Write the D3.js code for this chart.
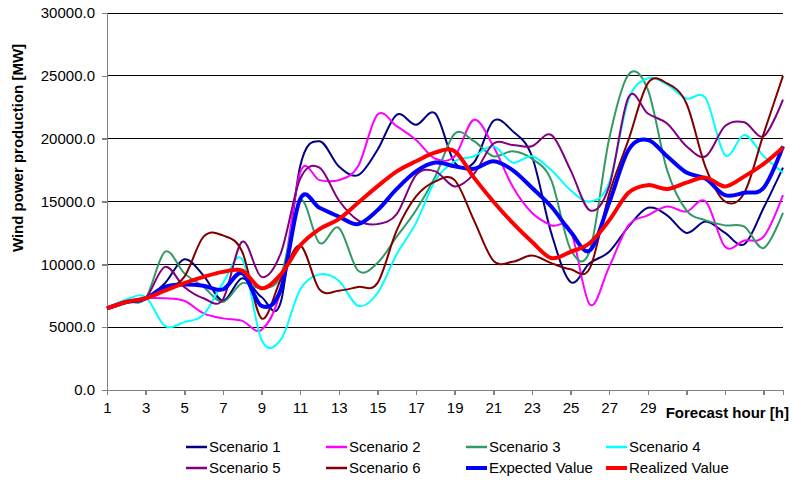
<!DOCTYPE html>
<html>

<head>
    <meta charset='utf-8'>
    <title>Wind power scenarios</title>
    <script type='text/javascript' src='https://cdn.jsdelivr.net/npm/d3@7'></script>
    <style>
        body { margin: 0; background: #fff; }
        text { font-family: 'Liberation Sans', Arial, sans-serif; }
    </style>
</head>

<body>
    <svg width='792' height='481'></svg>
    <script type='text/javascript'>

        // forecast hours 1..36
        const hours = d3.range(1, 37)
        const yTicks = [0, 5000, 10000, 15000, 20000, 25000, 30000]
        const xTicks = d3.range(1, 36, 2)

        const scenario1 = [6500, 7000, 7300, 8500, 10400, 9100, 7100, 8900, 7400, 7000, 17800, 19800, 17800, 17100, 19100, 21900, 21100, 22000, 18100, 18100, 21400, 20600, 18600, 12500, 8600, 10100, 11000, 13000, 14500, 13900, 12500, 13400, 12500, 11600, 14500, 17700]
        const scenario2 = [6500, 7000, 7300, 7300, 7100, 6100, 5700, 5500, 4800, 8000, 17300, 16700, 16700, 17800, 21900, 21000, 19900, 18400, 18600, 21500, 19400, 16200, 14100, 13100, 12700, 6800, 9800, 13100, 13900, 14600, 14200, 15000, 11400, 11900, 12200, 15500]
        const scenario3 = [6500, 7000, 7300, 11000, 9300, 8200, 7000, 8500, 8100, 9100, 15100, 11700, 12900, 9500, 10100, 12200, 14300, 17000, 20400, 19800, 18600, 19000, 18400, 16700, 11200, 11100, 20000, 25100, 23900, 17500, 14300, 13500, 13100, 13000, 11300, 14100]
        const scenario4 = [6500, 7200, 7400, 5100, 5400, 6000, 8500, 10400, 4000, 4000, 8000, 9200, 8700, 6700, 7700, 10800, 13300, 16700, 18200, 18600, 19400, 18100, 18600, 17500, 15900, 15000, 16500, 23100, 24800, 24300, 23200, 23200, 18700, 20300, 18600, 17300]
        const scenario5 = [6500, 7000, 7300, 9800, 8200, 7300, 7200, 11800, 9000, 10900, 16800, 17700, 15100, 13500, 13200, 14000, 17100, 17400, 16200, 17200, 19600, 19500, 19400, 20300, 17500, 14300, 16200, 23300, 22000, 21200, 19400, 18600, 21000, 21300, 20200, 23100]
        const scenario6 = [6500, 7000, 7300, 7900, 9000, 12200, 12300, 11000, 5700, 8800, 11500, 8000, 7900, 8200, 8500, 12700, 15400, 16600, 16700, 13500, 10300, 10200, 10700, 10100, 9600, 9700, 15600, 19900, 24400, 24400, 22800, 17700, 15000, 15700, 20400, 25000]
        const expectedValue = [6500, 7000, 7300, 8200, 8400, 8300, 8000, 9300, 6700, 8000, 15200, 14500, 13800, 13200, 14300, 16000, 17400, 18100, 17800, 17600, 18200, 17500, 16100, 14600, 12600, 11100, 14900, 19100, 19900, 18600, 17300, 16800, 15500, 15700, 16100, 19400]
        const realizedValue = [6500, 7000, 7300, 7900, 8500, 9000, 9400, 9500, 8100, 9200, 11500, 12800, 13600, 14900, 16200, 17400, 18200, 18900, 19000, 16900, 15000, 13300, 11800, 10500, 11000, 11700, 13500, 15700, 16300, 16000, 16500, 16900, 16200, 17000, 18000, 19300]

        const seriesNames = ['Scenario 1', 'Scenario 2', 'Scenario 3', 'Scenario 4', 'Scenario 5', 'Scenario 6', 'Expected Value', 'Realized Value']
        const seriesValues = [scenario1, scenario2, scenario3, scenario4, scenario5, scenario6, expectedValue, realizedValue]
        const seriesColors = ['#000080', '#ff00ff', '#339966', '#00ffff', '#800080', '#800000', '#0000ff', '#ff0000']
        const seriesWidths = [2, 2, 2, 2, 2, 2, 4, 4]

        const svg = d3.select('svg')
        const plot = { left: 107, right: 783, top: 13, bottom: 390 }

        const x = d3.scaleLinear().domain([1, 36]).range([plot.left, plot.right])
        const y = d3.scaleLinear().domain([0, 30000]).range([plot.bottom, plot.top])

        // horizontal grid lines
        svg.append('g')
            .selectAll('line')
            .data(yTicks.filter(d => d > 0))
            .enter().append('line')
            .attr('x1', plot.left).attr('x2', plot.right)
            .attr('y1', d => y(d)).attr('y2', d => y(d))
            .attr('stroke', '#000').attr('stroke-width', 1)
            .attr('shape-rendering', 'crispEdges')

        // y axis
        const yAxis = svg.append('g')
            .attr('transform', `translate(${plot.left},0)`)
            .call(d3.axisLeft(y).tickValues(yTicks).tickFormat(d3.format('.1f')).tickSize(5).tickPadding(7))
        yAxis.selectAll('text').style('font-size', '15px').attr('fill', '#000')

        // x axis
        const xAxis = svg.append('g')
            .attr('transform', `translate(0,${plot.bottom})`)
            .call(d3.axisBottom(x).tickValues(xTicks).tickFormat(d => d <= 29 ? d : '').tickSize(5).tickPadding(7))
        xAxis.selectAll('text').style('font-size', '15px').attr('fill', '#000')

        svg.selectAll('.domain, .tick line')
            .attr('stroke', '#808080').attr('stroke-width', 1.5)
            .attr('shape-rendering', 'crispEdges')

        // axis titles
        svg.append('text')
            .attr('transform', 'translate(23,148) rotate(-90)')
            .attr('text-anchor', 'middle')
            .style('font-size', '15px').style('font-weight', 'bold')
            .text('Wind power production [MW]')

        svg.append('text')
            .attr('x', 789).attr('y', 418)
            .attr('text-anchor', 'end')
            .style('font-size', '15px').style('font-weight', 'bold')
            .text('Forecast hour [h]')

        // smoothed lines, like excel
        const line = d3.line()
            .x((d, i) => x(hours[i]))
            .y(d => y(d))
            .curve(d3.curveCardinal.tension(0))

        svg.append('g')
            .selectAll('path')
            .data(seriesValues)
            .enter().append('path')
            .attr('d', d => line(d))
            .attr('fill', 'none')
            .attr('stroke', (d, i) => seriesColors[i])
            .attr('stroke-width', (d, i) => seriesWidths[i])
            .attr('stroke-linejoin', 'round')

        // legend: 4 columns, 2 rows
        const legend = svg.append('g')
            .selectAll('g')
            .data(seriesNames)
            .enter().append('g')
            .attr('transform', (d, i) => `translate(${186 + (i % 4) * 140},${447 + Math.floor(i / 4) * 21})`)

        legend.append('line')
            .attr('x1', 0).attr('x2', 21)
            .attr('stroke', (d, i) => seriesColors[i])
            .attr('stroke-width', (d, i) => seriesWidths[i] === 4 ? 4 : 2.5)

        legend.append('text')
            .attr('x', 23).attr('y', 5)
            .style('font-size', '15px')
            .text(d => d)

    </script>
</body>

</html>
